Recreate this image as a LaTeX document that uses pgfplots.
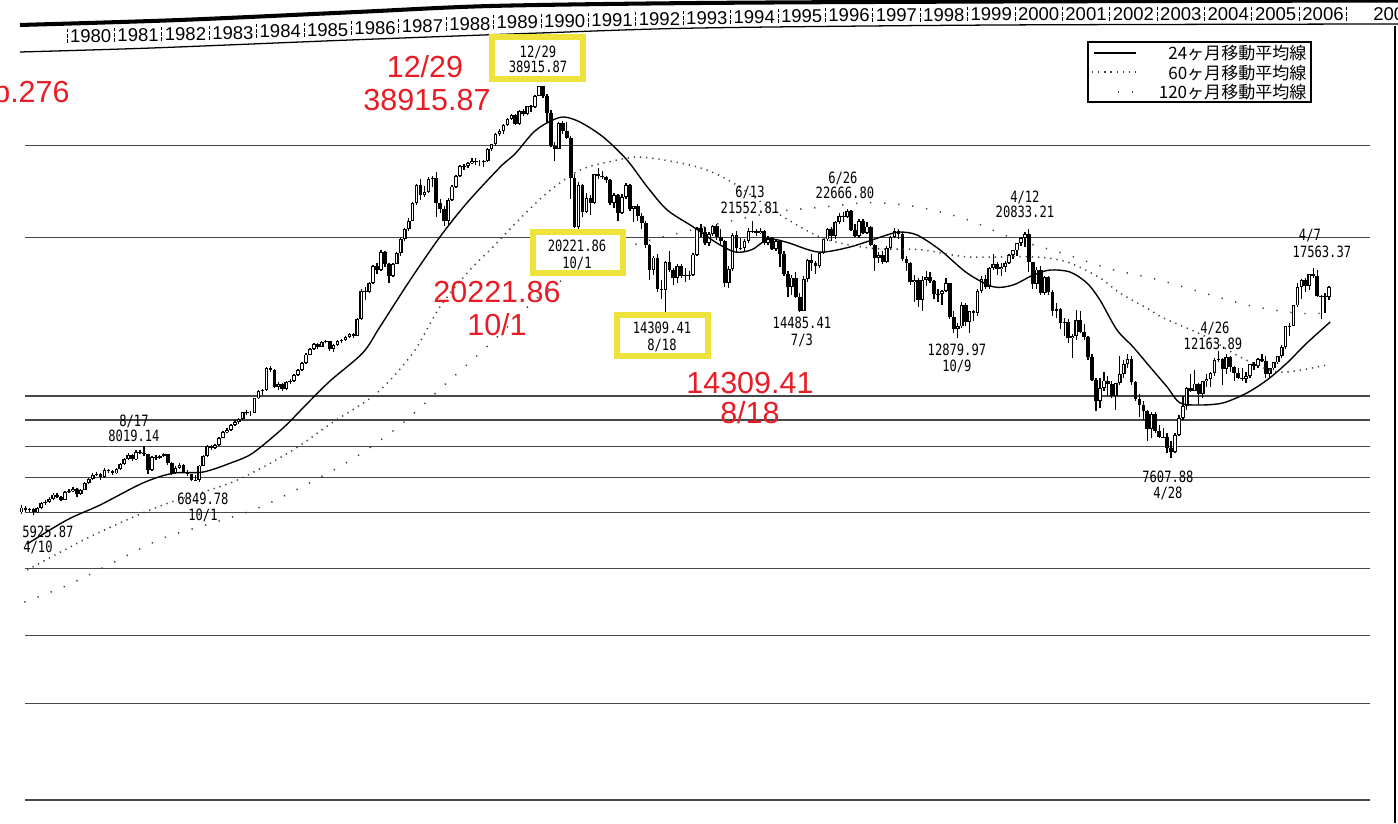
\documentclass[border=0pt]{standalone}
\usepackage{fontspec}
\setmainfont{Liberation Sans}
\newfontfamily\annfont[FakeStretch=0.78]{DejaVu Sans Mono}
\newfontfamily\jpfont{Noto Sans CJK JP}
\usepackage{pgfplots}
\usepackage{pgfplotstable}
\pgfplotsset{compat=1.18}
\definecolor{annred}{RGB}{232,28,36}
\definecolor{hiyellow}{RGB}{238,226,60}
\newcommand{\ann}{\annfont\fontsize{7.3}{8}\selectfont}
\newcommand{\redtxt}{\fontsize{14.3}{16}\selectfont\color{annred}}

% monthly candles: year month open high low close
\pgfplotstableread{
y m o h l c
1979 1 6000 6210 5960 6130
1979 2 6130 6180 6010 6060
1979 3 6060 6130 6010 6080
1979 4 6080 6110 5926 6000
1979 5 6000 6150 5980 6110
1979 6 6110 6280 6090 6240
1979 7 6240 6340 6200 6290
1979 8 6290 6410 6260 6370
1979 9 6370 6530 6350 6490
1979 10 6490 6520 6380 6420
1979 11 6420 6450 6300 6340
1979 12 6340 6590 6330 6570
1980 1 6570 6640 6520 6580
1980 2 6580 6720 6560 6660
1980 3 6660 6690 6420 6500
1980 4 6500 6660 6470 6630
1980 5 6630 6850 6610 6820
1980 6 6820 6980 6800 6940
1980 7 6940 7130 6920 7080
1980 8 7080 7180 7040 7110
1980 9 7110 7140 6930 7000
1980 10 7000 7280 6980 7230
1980 11 7230 7270 7140 7190
1980 12 7190 7220 7060 7120
1981 1 7120 7290 7090 7250
1981 2 7250 7450 7220 7410
1981 3 7410 7620 7390 7580
1981 4 7580 7790 7560 7720
1981 5 7720 7740 7520 7570
1981 6 7570 7880 7550 7830
1981 7 7830 7880 7740 7800
1981 8 7800 8019 7700 7760
1981 9 7760 7770 7110 7240
1981 10 7240 7700 7200 7650
1981 11 7650 7720 7560 7620
1981 12 7620 7720 7580 7680
1982 1 7680 7800 7650 7740
1982 2 7740 7760 7400 7460
1982 3 7460 7480 7060 7130
1982 4 7130 7340 7100 7300
1982 5 7300 7440 7260 7390
1982 6 7390 7410 7120 7160
1982 7 7160 7220 7050 7090
1982 8 7090 7110 6880 6930
1982 9 6930 7060 6880 6920
1982 10 6920 7400 6850 7370
1982 11 7370 7720 7340 7680
1982 12 7680 8050 7650 8020
1983 1 8020 8080 7880 7960
1983 2 7960 8110 7930 8070
1983 3 8070 8370 8040 8330
1983 4 8330 8570 8300 8530
1983 5 8530 8670 8500 8620
1983 6 8620 8840 8590 8800
1983 7 8800 8980 8770 8920
1983 8 8920 9090 8860 9040
1983 9 9040 9340 9000 9300
1983 10 9300 9410 9180 9280
1983 11 9280 9370 9150 9280
1983 12 9280 9900 9260 9890
1984 1 9890 10250 9870 10200
1984 2 10200 10330 10050 10250
1984 3 10250 11340 10230 11290
1984 4 11290 11410 11100 11200
1984 5 11200 11250 10350 10400
1984 6 10400 10650 10280 10550
1984 7 10550 10600 10230 10300
1984 8 10300 10680 10250 10620
1984 9 10620 10780 10560 10700
1984 10 10700 11030 10650 10970
1984 11 10970 11260 10930 11200
1984 12 11200 11580 11150 11540
1985 1 11540 12050 11500 11990
1985 2 11990 12350 11950 12300
1985 3 12300 12640 12250 12580
1985 4 12580 12620 12300 12420
1985 5 12420 12720 12380 12660
1985 6 12660 12800 12590 12710
1985 7 12710 12750 12200 12270
1985 8 12270 12560 12150 12500
1985 9 12500 12760 12440 12700
1985 10 12700 12850 12600 12780
1985 11 12780 13000 12720 12940
1985 12 12940 13180 12900 13110
1986 1 13110 13200 12880 13030
1986 2 13030 14080 13000 14000
1986 3 14000 15950 13980 15860
1986 4 15860 16100 15200 15800
1986 5 15800 16480 15700 16400
1986 6 16400 17750 16350 17650
1986 7 17650 17900 17100 17390
1986 8 17390 18940 17300 18820
1986 9 18820 18900 17600 17850
1986 10 17850 17900 16400 16910
1986 11 16910 17950 16850 17850
1986 12 17850 18820 17800 18700
1987 1 18700 20050 18500 19900
1987 2 19900 20900 19700 20800
1987 3 20800 21800 20650 21570
1987 4 21570 23400 21500 23270
1987 5 23270 25350 23100 25250
1987 6 25250 25900 23600 24180
1987 7 24180 25100 23900 24490
1987 8 24490 26100 24400 25900
1987 9 25900 26200 25000 26010
1987 10 26010 26650 21910 23330
1987 11 23330 23750 22300 22690
1987 12 22690 23000 21100 21560
1988 1 21560 23800 21200 23620
1988 2 23620 25200 23500 25050
1988 3 25050 26400 24900 26260
1988 4 26260 27550 26150 27430
1988 5 27430 27700 26900 27420
1988 6 27420 27900 27200 27770
1988 7 27770 28400 27600 28010
1988 8 28010 28350 27500 27920
1988 9 27920 28200 27400 27920
1988 10 27920 28150 27300 28000
1988 11 28000 29650 27950 29580
1988 12 29580 30250 29300 30160
1989 1 30160 31700 29900 31580
1989 2 31580 32200 31200 31990
1989 3 31990 32900 31600 32840
1989 4 32840 33800 32700 33710
1989 5 33710 34400 33500 34270
1989 6 34270 34500 32900 33000
1989 7 33000 35100 32800 34950
1989 8 34950 35200 34200 34430
1989 9 34430 35700 34300 35640
1989 10 35640 35900 34800 35550
1989 11 35550 37400 35400 37270
1989 12 37270 38916 37200 38916
1990 1 38916 38920 37000 37190
1990 2 37190 37600 33300 34590
1990 3 34590 35000 29800 29980
1990 4 29980 30500 28002 29590
1990 5 29590 33300 29500 33130
1990 6 33130 33400 31500 31940
1990 7 31940 33200 30900 31040
1990 8 31040 31200 23700 25980
1990 9 25980 26500 20950 20980
1990 10 20980 25500 20222 25190
1990 11 25190 25300 21900 22450
1990 12 22450 24300 22300 23850
1991 1 23850 24100 22100 23290
1991 2 23290 26500 23200 26410
1991 3 26410 27146 25900 26290
1991 4 26290 26800 25900 26110
1991 5 26110 26200 25400 25790
1991 6 25790 25900 23100 23290
1991 7 23290 24400 22800 24120
1991 8 24120 24200 21500 22340
1991 9 22340 24200 22200 23920
1991 10 23920 25400 23700 25220
1991 11 25220 25300 22500 22690
1991 12 22690 23000 21400 22980
1992 1 22980 23200 21500 22020
1992 2 22020 22300 20800 21340
1992 3 21340 21500 19100 19350
1992 4 19350 19500 16600 17390
1992 5 17390 18500 17000 18350
1992 6 18350 18600 15800 15950
1992 7 15950 16600 15300 15910
1992 8 15910 18100 14309 17960
1992 9 17960 18900 17200 17400
1992 10 17400 17500 16300 16770
1992 11 16770 17800 16400 17680
1992 12 17680 17800 16800 16930
1993 1 16930 17500 16500 17020
1993 2 17020 17300 16600 17000
1993 3 17000 18700 16900 18590
1993 4 18590 21000 18500 20920
1993 5 20920 21300 20100 20550
1993 6 20550 21000 19400 19590
1993 7 19590 20500 19300 20380
1993 8 20380 21200 20200 21030
1993 9 21030 21300 19800 20100
1993 10 20100 20800 19500 19700
1993 11 19700 19800 16100 16410
1993 12 16410 17700 16080 17420
1994 1 17420 20400 17300 20230
1994 2 20230 20600 18800 19100
1994 3 19100 20000 19000 19110
1994 4 19110 19900 18900 19730
1994 5 19730 20900 19600 20640
1994 6 20640 21553 20400 20630
1994 7 20630 20800 20200 20450
1994 8 20450 20900 20300 20630
1994 9 20630 20700 19400 19560
1994 10 19560 20200 19400 19990
1994 11 19990 20100 19000 19080
1994 12 19080 19800 18900 19720
1995 1 19720 19800 17600 18650
1995 2 18650 18900 16900 17050
1995 3 17050 17300 15400 16140
1995 4 16140 17000 15600 16810
1995 5 16810 17200 15400 15440
1995 6 15440 15700 14500 14520
1995 7 14520 16900 14485 16680
1995 8 16680 18200 16500 18120
1995 9 18120 18600 17300 17910
1995 10 17910 18100 17100 17650
1995 11 17650 18800 17500 18740
1995 12 18740 19900 18600 19870
1996 1 19870 20900 19700 20810
1996 2 20810 21000 19700 20130
1996 3 20130 21500 19900 21410
1996 4 21410 22300 21300 22040
1996 5 22040 22400 21400 21930
1996 6 21930 22667 21800 22530
1996 7 22530 22600 20600 20690
1996 8 20690 21300 20100 20170
1996 9 20170 21700 20000 21560
1996 10 21560 21700 20300 20470
1996 11 20470 21400 20300 21020
1996 12 21020 21100 19300 19360
1997 1 19360 19500 17300 18330
1997 2 18330 18800 17900 18560
1997 3 18560 18900 17800 18000
1997 4 18000 19300 17900 19150
1997 5 19150 20200 19000 20070
1997 6 20070 20900 20000 20600
1997 7 20600 20800 19900 20330
1997 8 20330 20400 18100 18230
1997 9 18230 18500 17300 17890
1997 10 17890 18000 16300 16460
1997 11 16460 17000 15100 16640
1997 12 16640 16800 14800 15260
1998 1 15260 16900 14500 16630
1998 2 16630 17300 16200 16830
1998 3 16830 17200 16400 16530
1998 4 16530 16600 15300 15640
1998 5 15640 16000 15100 15670
1998 6 15670 15900 14900 15830
1998 7 15830 16800 15800 16380
1998 8 16380 16400 14000 14110
1998 9 14110 14500 13200 13410
1998 10 13410 13800 12880 13560
1998 11 13560 15100 13500 14880
1998 12 14880 15000 13600 13840
1999 1 13840 14500 13200 14500
1999 2 14500 14600 13900 14370
1999 3 14370 16000 14200 15840
1999 4 15840 16900 15700 16700
1999 5 16700 17000 16000 16110
1999 6 16110 17600 16000 17530
1999 7 17530 18600 17400 17860
1999 8 17860 18000 17000 17440
1999 9 17440 17900 16900 17610
1999 10 17610 18100 17200 17940
1999 11 17940 18600 17800 18560
1999 12 18560 19000 18200 18930
2000 1 18930 19600 18500 19540
2000 2 19540 20100 19300 19960
2000 3 19960 20500 19200 20340
2000 4 20340 20833 17200 17970
2000 5 17970 18000 16000 16330
2000 6 16330 17600 16000 17410
2000 7 17410 17700 15600 15730
2000 8 15730 16900 15600 16860
2000 9 16860 16900 15600 15750
2000 10 15750 15900 14200 14540
2000 11 14540 15000 14100 14650
2000 12 14650 14700 13400 13790
2001 1 13790 14100 13000 13840
2001 2 13840 14000 12600 12880
2001 3 12880 13100 11800 13000
2001 4 13000 14600 12800 13930
2001 5 13930 14500 13200 13260
2001 6 13260 13700 12800 12970
2001 7 12970 13000 11700 11860
2001 8 11860 12000 10700 10710
2001 9 10710 10800 9380 9770
2001 10 9770 10800 9500 10370
2001 11 10370 11100 10200 10700
2001 12 10700 10900 10000 10540
2002 1 10540 10700 9900 9990
2002 2 9990 10600 9400 10590
2002 3 10590 11900 10500 11030
2002 4 11030 11700 10800 11490
2002 5 11490 12000 11300 11760
2002 6 11760 11900 10500 10620
2002 7 10620 10700 9800 9880
2002 8 9880 10100 9100 9620
2002 9 9620 9800 9000 9380
2002 10 9380 9400 8200 8640
2002 11 8640 9300 8300 9220
2002 12 9220 9300 8500 8580
2003 1 8580 8800 8300 8340
2003 2 8340 8700 8300 8360
2003 3 8360 8500 7800 7970
2003 4 7970 8200 7608 7830
2003 5 7830 8500 7800 8420
2003 6 8420 9200 8400 9080
2003 7 9080 10000 9000 9560
2003 8 9560 10400 9400 10340
2003 9 10340 11000 10200 10220
2003 10 10220 11200 10200 10560
2003 11 10560 10600 9600 10100
2003 12 10100 10700 9900 10680
2004 1 10680 11000 10400 10780
2004 2 10780 11100 10400 11040
2004 3 11040 11800 10900 11720
2004 4 11720 12164 11600 11760
2004 5 11760 11800 10500 11240
2004 6 11240 12000 11000 11860
2004 7 11860 11900 11100 11330
2004 8 11330 11400 10700 11080
2004 9 11080 11300 10800 10820
2004 10 10820 11300 10700 10770
2004 11 10770 11100 10600 10900
2004 12 10900 11500 10800 11490
2005 1 11490 11600 11200 11390
2005 2 11390 11800 11300 11740
2005 3 11740 12000 11600 11670
2005 4 11670 11900 10800 11010
2005 5 11010 11300 10800 11280
2005 6 11280 11600 11200 11580
2005 7 11580 11900 11500 11900
2005 8 11900 12500 11800 12410
2005 9 12410 13600 12300 13570
2005 10 13570 13800 13000 13610
2005 11 13610 14900 13600 14870
2005 12 14870 16400 14800 16110
2006 1 16110 16700 15300 16650
2006 2 16650 16800 15800 16210
2006 3 16210 17100 15900 17060
2006 4 17060 17563 16800 16910
2006 5 16910 17400 15400 15470
2006 6 15470 15600 14000 15510
2006 7 15510 15700 14400 15460
2006 8 15460 16200 15200 16140
}\nikkei

% 24-month moving average
\pgfplotstableread{
t v
1979.16 5224
1980.00 5806
1980.70 6200
1981.60 6827
1982.24 7127
1982.87 7163
1983.50 7480
1983.92 7785
1984.56 8690
1985.06 9655
1985.55 10680
1986.24 12080
1986.60 13530
1987.24 16630
1987.87 20100
1988.44 23330
1989.14 27300
1989.45 28900
1989.83 31710
1990.13 33130
1990.46 33990
1990.82 33250
1991.31 31140
1991.81 28170
1992.24 25020
1992.66 22610
1993.21 20990
1993.71 19560
1994.10 18800
1994.45 19000
1994.80 19900
1995.20 19600
1995.85 18800
1996.52 19220
1997.30 20260
1997.57 20520
1997.93 20260
1998.42 18970
1998.99 17140
1999.54 16140
1999.96 16270
2000.38 16990
2000.74 17370
2001.16 17220
2001.52 16400
2001.79 15240
2002.15 13360
2002.49 12400
2002.85 11350
2003.21 10400
2003.48 9700
2003.90 9610
2004.39 9700
2004.89 10130
2005.32 10730
2005.74 11560
2006.16 12620
2006.65 13830
}\maA

% 60-month moving average
\pgfplotstableread{
t v
1979.16 4660
1980.50 5400
1981.96 6170
1983.50 6860
1984.70 7820
1985.60 8900
1986.54 10130
1987.30 12080
1987.87 14790
1988.50 17380
1988.99 19230
1989.50 21500
1990.13 24370
1990.82 26920
1991.50 28000
1992.09 28510
1992.93 27790
1993.50 26930
1994.05 25460
1995.11 21930
1996.00 19900
1997.00 19100
1998.00 19000
1999.00 18400
2000.38 18410
2001.10 17990
2001.79 16790
2002.21 15710
2002.85 14580
2003.12 14090
2004.00 13000
2004.80 11800
2005.59 11100
2006.58 11460
}\maB

% 120-month moving average
\pgfplotstableread{
t v
1979.1 4050
1980.0 4355
1981.0 4828
1982.0 5349
1983.0 5704
1984.0 6098
1985.0 6744
1986.0 7560
1987.0 8748
1988.0 10566
1989.0 12755
1990.0 15579
1991.0 17768
1992.0 19443
1993.0 20515
1994.0 21535
1995.0 22447
1996.0 22920
1997.0 23352
1998.0 22863
1999.0 21651
2000.0 19897
2001.0 18703
2002.0 17465
2003.0 16664
2004.0 15690
2005.0 14827
2006.0 14358
2006.6 14400
}\maC

\begin{document}
\begin{tikzpicture}
\useasboundingbox (0,0) rectangle (230.67mm,-135.8mm);
\begin{axis}[
  at={(4.125mm,-6.6mm)}, anchor=north west,
  scale only axis, width=221.925mm, height=127.875mm,
  xmin=1979.114, xmax=2007.489,
  ymode=log, ymin=1592, ymax=47640,
  clip=false,
  axis line style={draw=none},
  xtick=\empty,
  ytick={1700,2600,3500,4700,6000,7000,8000,9000,10000,20000,30000},
  yticklabels={}, major tick length=0pt,
  ymajorgrids, grid style={black!72, line width=0.55pt},
  every axis plot/.append style={only marks, mark=*, mark size=0pt,
    mark options={draw=none, fill=none}},
]
  % wicks
  \addplot+[error bars/.cd, y dir=both, y explicit, error mark=none,
    error bar style={black, line width=0.6pt}]
    table[x expr=\thisrow{y}+(\thisrow{m}-0.5)/12, y=c,
          y error plus expr=\thisrow{h}-\thisrow{c},
          y error minus expr=\thisrow{c}-\thisrow{l}] {\nikkei};
  % all bodies in black
  \addplot+[error bars/.cd, y dir=minus, y explicit, error mark=none,
    error bar style={black, line width=1.75pt}]
    table[x expr=\thisrow{y}+(\thisrow{m}-0.5)/12,
          y expr={max(\thisrow{o},\thisrow{c})},
          y error minus expr={abs(\thisrow{o}-\thisrow{c})}] {\nikkei};
  % rising months: hollow inside
  \addplot+[error bars/.cd, y dir=minus, y explicit, error mark=none,
    error bar style={white, line width=0.6pt}]
    table[x expr=\thisrow{y}+(\thisrow{m}-0.5)/12,
          y expr={\thisrow{c}*0.996},
          y error minus expr={max(\thisrow{c}*0.996-\thisrow{o}*1.004,0)}] {\nikkei};
\end{axis}
\begin{axis}[
  at={(4.125mm,-6.6mm)}, anchor=north west,
  scale only axis, width=221.925mm, height=127.875mm,
  xmin=1979.114, xmax=2007.489,
  ymode=log, ymin=1592, ymax=47640,
  clip=false, hide axis,
]
  % moving averages
  \addplot[black, line width=0.65pt, smooth, tension=0.5] table[x=t, y=v] {\maA};
  \addplot[black!75, line width=0.7pt, dash pattern=on 0.6pt off 2.3pt, smooth] table[x=t, y=v] {\maB};
  \addplot[black!75, line width=0.7pt, dash pattern=on 0.6pt off 6pt, smooth] table[x=t, y=v] {\maC};
\end{axis}

\begin{scope}[x=0.165mm, y=-0.165mm]
  % curved year band on top
  \draw[line width=1.9pt] plot[smooth] coordinates {(20,25) (180,20) (357,12) (491,6) (700,3) (1000,1.5) (1398,0.5)};
  \draw[line width=0.6pt] plot[smooth] coordinates {(20,52) (152,48) (350,40) (540,33) (700,28) (1000,25) (1398,24)};
  \foreach \yr/\yy in {1980/36,1981/35,1982/34,1983/33,1984/31,1985/30,1986/28,1987/26,1988/24,1989/22,1990/21,1991/20,1992/19,1993/18,1994/17,1995/16,1996/15,1997/15,1998/15,1999/14,2000/14,2001/14,2002/14,2003/14,2004/14,2005/14,2006/14} {
    \node[inner sep=0, font=\fontsize{8.7}{9}\selectfont] at ({67+(\yr-1979.5)*47.4},\yy) {\yr};
    \draw[line width=0.4pt, dash pattern=on 1.6pt off 0.8pt] ({67+(\yr-1980)*47.4},{\yy-7}) -- ({67+(\yr-1980)*47.4},{\yy+7});
  }
  \node[inner sep=0, font=\fontsize{8.7}{9}\selectfont] at (1394,14) {2007};
  \draw[line width=0.4pt, dash pattern=on 1.6pt off 0.8pt] (1347,7) -- (1347,21);
  \draw[line width=0.8pt] (1395,26) -- (1395,823);

  % legend
  \draw[line width=0.7pt, fill=white] (1088,42) rectangle (1311,102);
  \draw[line width=0.7pt] (1094,53) -- (1136,53);
  \draw[black!75, line width=0.7pt, dash pattern=on 0.6pt off 2.3pt] (1092,72) -- (1140,72);
  \draw[black!75, line width=0.7pt, dash pattern=on 0.6pt off 6pt] (1118,92) -- (1142,92);
  \node[anchor=east, inner sep=0, font=\jpfont\fontsize{8}{9}\selectfont] at (1307,53) {24ヶ月移動平均線};
  \node[anchor=east, inner sep=0, font=\jpfont\fontsize{8}{9}\selectfont] at (1307,73) {60ヶ月移動平均線};
  \node[anchor=east, inner sep=0, font=\jpfont\fontsize{8}{9}\selectfont] at (1307,92) {120ヶ月移動平均線};

  % highlighted boxes
  \draw[hiyellow, line width=3.2pt, fill=white] (492,37) rectangle (583,79);
  \draw[hiyellow, line width=3.2pt, fill=white] (533,232) rectangle (623,273);
  \draw[hiyellow, line width=3.2pt, fill=white] (617,315) rectangle (708,356);

  % black annotations
  \begin{scope}[every node/.style={inner sep=0, font=\ann}]
    \node at (538,52) {12/29};    \node at (538,67) {38915.87};
    \node at (577,246) {20221.86}; \node at (577,263) {10/1};
    \node at (662,328) {14309.41}; \node at (662,345) {8/18};
    \node at (134,421) {8/17};    \node at (134,436) {8019.14};
    \node at (203,499) {6849.78}; \node at (203,515) {10/1};
    \node at (48,532) {5925.87};  \node at (38,547) {4/10};
    \node at (750,192) {6/13};    \node at (750,208) {21552.81};
    \node at (843,178) {6/26};    \node at (845,193) {22666.80};
    \node at (802,323) {14485.41}; \node at (802,340) {7/3};
    \node at (957,350) {12879.97}; \node at (957,366) {10/9};
    \node at (1025,197) {4/12};   \node at (1025,212) {20833.21};
    \node at (1215,328) {4/26};   \node at (1213,344) {12163.89};
    \node at (1310,236) {4/7};    \node at (1322,252) {17563.37};
    \node at (1168,477) {7607.88}; \node at (1168,493) {4/28};
  \end{scope}

  % red notes
  \begin{scope}[every node/.style={inner sep=0, font=\redtxt}]
    \node at (425,67) {12/29};   \node at (427,100) {38915.87};
    \node at (497,292) {20221.86}; \node at (497,325) {10/1};
    \node at (750,383) {14309.41}; \node at (750,413) {8/18};
    \node[anchor=east] at (70,95) {p.276};
  \end{scope}
\end{scope}
\end{tikzpicture}
\end{document}
